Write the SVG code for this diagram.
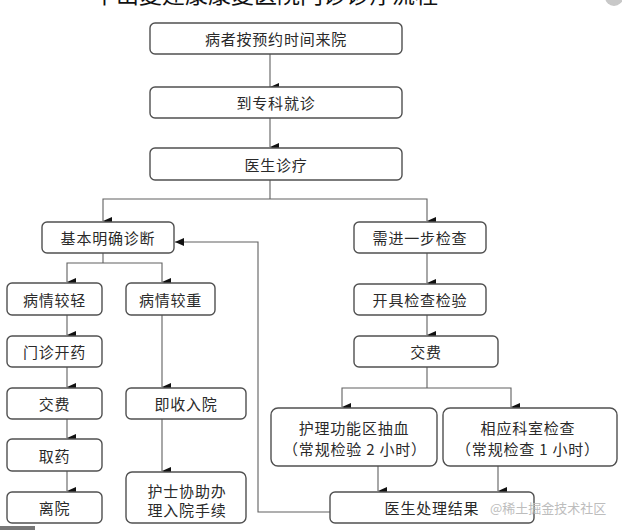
<svg xmlns="http://www.w3.org/2000/svg" width="622" height="530" viewBox="0 0 622 530">
<style>
.box{fill:#fff;stroke:#505050;stroke-width:1.4}
.t{font-family:"Noto Sans CJK SC","Noto Sans",sans-serif;font-size:15px;fill:#2a2a2a;text-anchor:middle;dominant-baseline:central;letter-spacing:0.8px}
.c{fill:none;stroke:#606060;stroke-width:1.1}
</style>
<defs>
<marker id="ah" markerUnits="userSpaceOnUse" markerWidth="8" markerHeight="9" refX="4" refY="9" orient="auto-start-reverse" viewBox="0 0 8 9">
<path d="M0,0 L8,0 L4,9 Z" fill="#111"/>
</marker>
<marker id="al" markerUnits="userSpaceOnUse" markerWidth="9" markerHeight="8" refX="0" refY="4" viewBox="0 0 9 8">
<path d="M9,0 L9,8 L0,4 Z" fill="#111"/>
</marker>
</defs>
<rect width="622" height="530" fill="#fff"/>
<text x="93" y="3" font-family="Noto Sans CJK SC, sans-serif" font-size="23" fill="#111">中山复建康康复医院门诊诊疗流程</text>
<circle cx="614" cy="-3" r="9" fill="#c8c8c8"/>
<rect x="0" y="526" width="35" height="4" fill="#777"/>

<g id="connectors">
<path class="c" d="M270,54 V87" marker-end="url(#ah)"/>
<path class="c" d="M270,118 V147" marker-end="url(#ah)"/>
<path class="c" d="M270,180 V199"/>
<path class="c" d="M103,221 V199 H427 V221" marker-start="url(#ah)" marker-end="url(#ah)"/>
<path class="c" d="M103,253 V263"/>
<path class="c" d="M67,282 V263 H162 V282" marker-start="url(#ah)" marker-end="url(#ah)"/>
<path class="c" d="M427,253 V283" marker-end="url(#ah)"/>
<path class="c" d="M427,315 V335" marker-end="url(#ah)"/>
<path class="c" d="M427,367 V388"/>
<path class="c" d="M342,407 V388 H511 V407" marker-start="url(#ah)" marker-end="url(#ah)"/>
<path class="c" d="M378,466 V491" marker-end="url(#ah)"/>
<path class="c" d="M498,466 V491" marker-end="url(#ah)"/>
<path class="c" d="M330,512 H258 V242 H175" marker-end="url(#al)"/>
<path class="c" d="M67,315 V335" marker-end="url(#ah)"/>
<path class="c" d="M67,367 V387" marker-end="url(#ah)"/>
<path class="c" d="M67,419 V438" marker-end="url(#ah)"/>
<path class="c" d="M67,471 V491" marker-end="url(#ah)"/>
<path class="c" d="M162,315 V387" marker-end="url(#ah)"/>
<path class="c" d="M162,419 V471" marker-end="url(#ah)"/>
</g>

<g id="n1"><rect class="box" x="150" y="23" width="252" height="31" rx="5"/><text class="t" x="276" y="38.5">病者按预约时间来院</text></g>
<g id="n2"><rect class="box" x="150" y="87" width="252" height="31" rx="5"/><text class="t" x="276" y="102.5">到专科就诊</text></g>
<g id="n3"><rect class="box" x="150" y="148" width="252" height="32" rx="5"/><text class="t" x="276" y="164">医生诊疗</text></g>
<g id="n4"><rect class="box" x="42" y="222" width="132" height="31" rx="5"/><text class="t" x="108" y="237.5">基本明确诊断</text></g>
<g id="n5"><rect class="box" x="354" y="222" width="132" height="31" rx="5"/><text class="t" x="420" y="237.5">需进一步检查</text></g>
<g id="n6"><rect class="box" x="7" y="283" width="95" height="32" rx="5"/><text class="t" x="54.5" y="299">病情较轻</text></g>
<g id="n7"><rect class="box" x="126" y="283" width="89" height="32" rx="5"/><text class="t" x="170.5" y="299">病情较重</text></g>
<g id="n8"><rect class="box" x="354" y="284" width="132" height="31" rx="5"/><text class="t" x="420" y="299.5">开具检查检验</text></g>
<g id="n9"><rect class="box" x="7" y="336" width="95" height="31" rx="5"/><text class="t" x="54.5" y="351.5">门诊开药</text></g>
<g id="n10"><rect class="box" x="354" y="336" width="144" height="31" rx="5"/><text class="t" x="426" y="351.5">交费</text></g>
<g id="n11"><rect class="box" x="7" y="388" width="95" height="31" rx="5"/><text class="t" x="54.5" y="403.5">交费</text></g>
<g id="n12"><rect class="box" x="126" y="388" width="120" height="31" rx="5"/><text class="t" x="186" y="403.5">即收入院</text></g>
<g id="n13"><rect class="box" x="271" y="408" width="166" height="58" rx="7"/><text class="t" x="354" y="427">护理功能区抽血</text><text class="t" x="355" y="448">（常规检验 2 小时）</text></g>
<g id="n14"><rect class="box" x="443" y="408" width="174" height="58" rx="7"/><text class="t" x="528" y="427">相应科室检查</text><text class="t" x="528" y="448">（常规检查 1 小时）</text></g>
<g id="n15"><rect class="box" x="7" y="439" width="95" height="32" rx="5"/><text class="t" x="54.5" y="455">取药</text></g>
<g id="n16"><rect class="box" x="126" y="472" width="120" height="51" rx="6"/><text class="t" x="187" y="490">护士协助办</text><text class="t" x="187" y="509">理入院手续</text></g>
<g id="n17"><rect class="box" x="7" y="492" width="95" height="31" rx="5"/><text class="t" x="54.5" y="507.5">离院</text></g>
<g id="n18"><rect class="box" x="330" y="492" width="204" height="31" rx="5"/><text class="t" x="432" y="507.5">医生处理结果</text></g>
<text x="490" y="507" font-family="Noto Sans CJK SC, sans-serif" font-size="13" fill="#bdbdbd" dominant-baseline="central">@稀土掘金技术社区</text>
</svg>
